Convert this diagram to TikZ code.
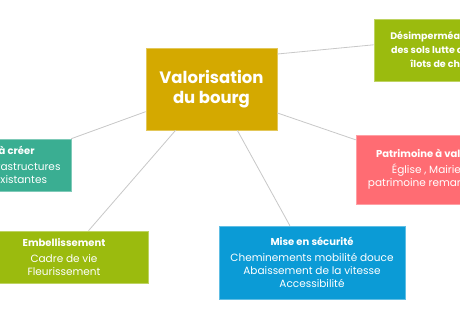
\documentclass[tikz,border=0pt]{standalone}
\usepackage{fontspec}
\setmainfont{Poppins}
\usepackage{tikz}
\definecolor{bourgGold}{RGB}{212,169,0}
\definecolor{bourgGreen}{RGB}{155,187,14}
\definecolor{bourgTeal}{RGB}{58,174,146}
\definecolor{bourgPink}{RGB}{255,108,115}
\definecolor{bourgBlue}{RGB}{11,155,214}
\definecolor{linkGray}{RGB}{200,200,200}
\tikzset{
  corebox/.style={
    rectangle, draw=white!35!#1, line width=0.6pt, fill=#1,
    minimum width=131pt, minimum height=82pt, inner sep=0pt,
    align=center, text=white, font=\fontsize{16.5}{19.5}\selectfont\bfseries
  },
  branchbox/.style={
    rectangle, draw=white!35!#1, line width=0.6pt, fill=#1,
    inner sep=0pt, align=center, text=white,
    font=\fontsize{10.5}{13}\selectfont
  },
  mylink/.style={draw=linkGray, line width=0.8pt},
}
\newcommand{\btitle}[1]{{\fontsize{10}{13}\selectfont\bfseries #1}}

\begin{document}
\begin{tikzpicture}[x=1pt, y=-1pt]
  \useasboundingbox (0,0) rectangle (460,320);
  \fill[white] (0,0) rectangle (460,320);
  \clip (0,0) rectangle (460,320);

  % Centre
  \node[corebox=bourgGold] (core) at (211.5,89) {Valorisation\\du bourg};

  % Branches
  \node[branchbox=bourgGreen, minimum width=148pt, minimum height=62pt,
        font=\fontsize{9.5}{14}\selectfont\bfseries] (desimp) at (448,50)
    {Désimperméabilisation\\des sols lutte contre les\\îlots de chaleur};
  \node[branchbox=bourgTeal, minimum width=168pt, minimum height=52pt] (liaison) at (-13,165)
    {\btitle{Traversées à créer}\\[3pt]
     Valoriser nos infrastructures\\et les voiries existantes};
  \node[branchbox=bourgPink, minimum width=154pt, minimum height=69pt] (patri) at (433,169.5)
    {\btitle{Patrimoine à valoriser}\\[3pt]
     Église , Mairie et\\patrimoine remarquable};
  \node[branchbox=bourgGreen, minimum width=168pt, minimum height=52pt] (embel) at (64,257)
    {\btitle{Embellissement}\\[3pt]
     Cadre de vie\\Fleurissement};
  \node[branchbox=bourgBlue, minimum width=186pt, minimum height=73pt] (secu) at (312,262.5)
    {\btitle{Mise en sécurité}\\[3pt]
     Cheminements mobilité douce\\Abaissement de la vitesse\\Accessibilité};

  % Links
  \draw[mylink] (core.28)  -- (desimp.176);
  \draw[mylink] (core.199) -- (liaison.north east);
  \draw[mylink] (core.-20) -- (patri.159);
  \draw[mylink] (core.229) -- (embel.47);
  \draw[mylink] (core.-58) -- (secu.121);
\end{tikzpicture}
\end{document}
